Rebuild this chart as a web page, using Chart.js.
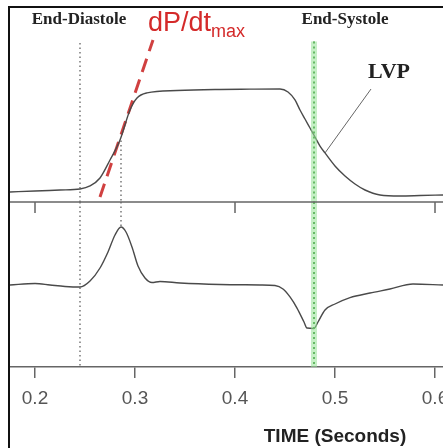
<!DOCTYPE html>
<html>
<head>
<meta charset="utf-8">
<script src="https://cdn.jsdelivr.net/npm/chart.js@4"></script>
<style>
  html, body { margin: 0; padding: 0; background: #fff; overflow: hidden; }
  #frame { position: absolute; left: 8px; top: 6px; width: 433px; height: 440px;
           border-left: 2px solid #111; border-top: 2px solid #111; }
  #wrap { position: relative; width: 433px; height: 440px; }
</style>
</head>
<body>
<div id="frame"><div id="wrap"><canvas id="c"></canvas></div></div>
<script>
// time axis (seconds)
const xTicks = [0.2, 0.3, 0.4, 0.5, 0.6]
const midTicks = [0.2, 0.4, 0.6]

// left ventricular pressure (upper trace)
const lvpTime = [0.175,0.2,0.225,0.245,0.255,0.265,0.275,0.285,0.295,0.302,0.312,0.342,0.38,0.415,0.445,0.453,0.46,0.465,0.47,0.475,0.48,0.485,0.49,0.5,0.51,0.52,0.53,0.545,0.565,0.585,0.608]
const lvpVal  = [6.7,7.3,8,8.7,10.7,16,28,41.3,61.3,69.3,72.7,74.3,75,75.2,75.3,73.3,68,61.3,55.3,49.3,43.3,37.3,32.7,24,17.3,12,8,4.7,4,4.3,4.7]

// dP/dt (lower trace)
const dpTime = [0.175,0.2,0.215,0.23,0.245,0.255,0.265,0.273,0.28,0.286,0.291,0.297,0.303,0.31,0.317,0.325,0.345,0.385,0.425,0.44,0.448,0.455,0.462,0.469,0.472,0.479,0.483,0.49,0.5,0.515,0.535,0.555,0.578,0.608]
const dpVal  = [-0.3,0.7,-0.3,-1.3,-1.7,2.3,11,21.7,33,38.3,35,25,12.3,4.3,1.3,2,1,0,-0.3,-0.7,-3,-8.3,-15.7,-25,-29,-29.3,-25,-17,-13,-8.7,-5.7,-3,0.3,-0.3]

// tangent at dP/dt max, and the LVP pointer
const tangentTime = [0.265, 0.318]
const tangentVal = [3.3, 108]
const pointerTime = [0.49, 0.536]
const pointerVal = [32.7, 75.3]

// vertical markers: end-diastole, dP/dt max, end-systole
const markTime = [0.245, 0.286, 0.479]
const markTopP = [106, 41, 107]
const markBottomD = [-55, 38, -55]

const pts = (xs, ys) => xs.map((x, i) => ({x: x, y: ys[i]}))

const line = (data, axis, color, width, extra) => Object.assign({
    data: data, yAxisID: axis, borderColor: color, borderWidth: width,
    pointRadius: 0, fill: false, tension: 0
}, extra || {})

const markers = []
markTime.forEach((t, i) => {
    const green = i == 2
    const styleList = green
        ? [['rgba(150,225,150,0.55)', 6, []], ['#2e8b2e', 2, [2, 3]]]
        : [['#555', 1.2, [1.5, 3]]]
    styleList.forEach(s => {
        markers.push(line(pts([t, t], [markTopP[i], 0]), 'yP', s[0], s[1], {borderDash: s[2]}))
        markers.push(line(pts([t, t], [55, markBottomD[i]]), 'yD', s[0], s[1], {borderDash: s[2]}))
    })
})

const deco = {
    id: 'deco',
    afterDraw(chart) {
        const ctx = chart.ctx, x = chart.scales.x, yP = chart.scales.yP
        const a = chart.chartArea
        ctx.save()
        // middle divider with its ticks
        ctx.strokeStyle = '#666'
        ctx.lineWidth = 1.5
        ctx.beginPath()
        ctx.moveTo(a.left, yP.bottom)
        ctx.lineTo(a.right, yP.bottom)
        midTicks.forEach(t => {
            ctx.moveTo(x.getPixelForValue(t), yP.bottom)
            ctx.lineTo(x.getPixelForValue(t), yP.bottom + 11)
        })
        ctx.stroke()

        ctx.textBaseline = 'middle'
        ctx.fillStyle = '#222'
        ctx.font = 'bold 17px "Liberation Serif"'
        ctx.textAlign = 'center'
        ctx.fillText('End-Diastole', x.getPixelForValue(0.244), a.top + 12)
        ctx.fillText('End-Systole', x.getPixelForValue(0.51), a.top + 12)
        ctx.font = 'bold 22px "Liberation Serif"'
        ctx.textAlign = 'left'
        ctx.fillText('LVP', x.getPixelForValue(0.533), yP.getPixelForValue(86.7))

        ctx.fillStyle = '#d42a2a'
        ctx.textBaseline = 'alphabetic'
        ctx.font = '27px "Liberation Sans"'
        const dx = x.getPixelForValue(0.313)
        ctx.fillText('dP/dt', dx, a.top + 23)
        const w = ctx.measureText('dP/dt').width
        ctx.font = '18px "Liberation Sans"'
        ctx.fillText('max', dx + w, a.top + 29)

        ctx.fillStyle = '#222'
        ctx.textAlign = 'center'
        ctx.textBaseline = 'middle'
        ctx.font = 'bold 19px "Liberation Sans"'
        ctx.fillText('TIME (Seconds)', x.getPixelForValue(0.5), a.bottom + 70)
        ctx.restore()
    }
}

new Chart(document.getElementById('c'), {
    type: 'line',
    data: {
        datasets: markers.concat([
            line(pts(lvpTime, lvpVal), 'yP', '#4a4a4a', 1.4, {cubicInterpolationMode: 'monotone'}),
            line(pts(dpTime, dpVal), 'yD', '#4a4a4a', 1.4, {cubicInterpolationMode: 'monotone'}),
            line(pts(tangentTime, tangentVal), 'yP', 'rgba(200,30,30,0.85)', 3, {borderDash: [14, 8]}),
            line(pts(pointerTime, pointerVal), 'yP', '#666', 1)
        ])
    },
    options: {
        responsive: true,
        maintainAspectRatio: false,
        animation: false,
        layout: {padding: 0, autoPadding: false},
        plugins: {legend: {display: false}, tooltip: {enabled: false}},
        scales: {
            x: {
                type: 'linear', min: 0.175, max: 0.608,
                afterBuildTicks: s => { s.ticks = xTicks.map(v => ({value: v})) },
                afterFit: s => { s.height = 81; s.paddingRight = 0; s.paddingLeft = 0 },
                border: {color: '#666', width: 1.5},
                grid: {drawOnChartArea: false, drawTicks: true, tickLength: 11, color: '#666', lineWidth: 1.5},
                ticks: {color: '#555', padding: 9, maxRotation: 0, font: {family: 'Liberation Sans', size: 19}}
            },
            yD: {
                type: 'linear', min: -55, max: 55, position: 'left', stack: 'p', stackWeight: 165,
                afterFit: s => { s.width = 0 },
                border: {display: false}, grid: {display: false, drawTicks: false}, ticks: {display: false}
            },
            yP: {
                type: 'linear', min: 0, max: 129.3, position: 'left', stack: 'p', stackWeight: 194,
                afterFit: s => { s.width = 0 },
                border: {display: false}, grid: {display: false, drawTicks: false}, ticks: {display: false}
            }
        }
    },
    plugins: [deco]
})
</script>
</body>
</html>
